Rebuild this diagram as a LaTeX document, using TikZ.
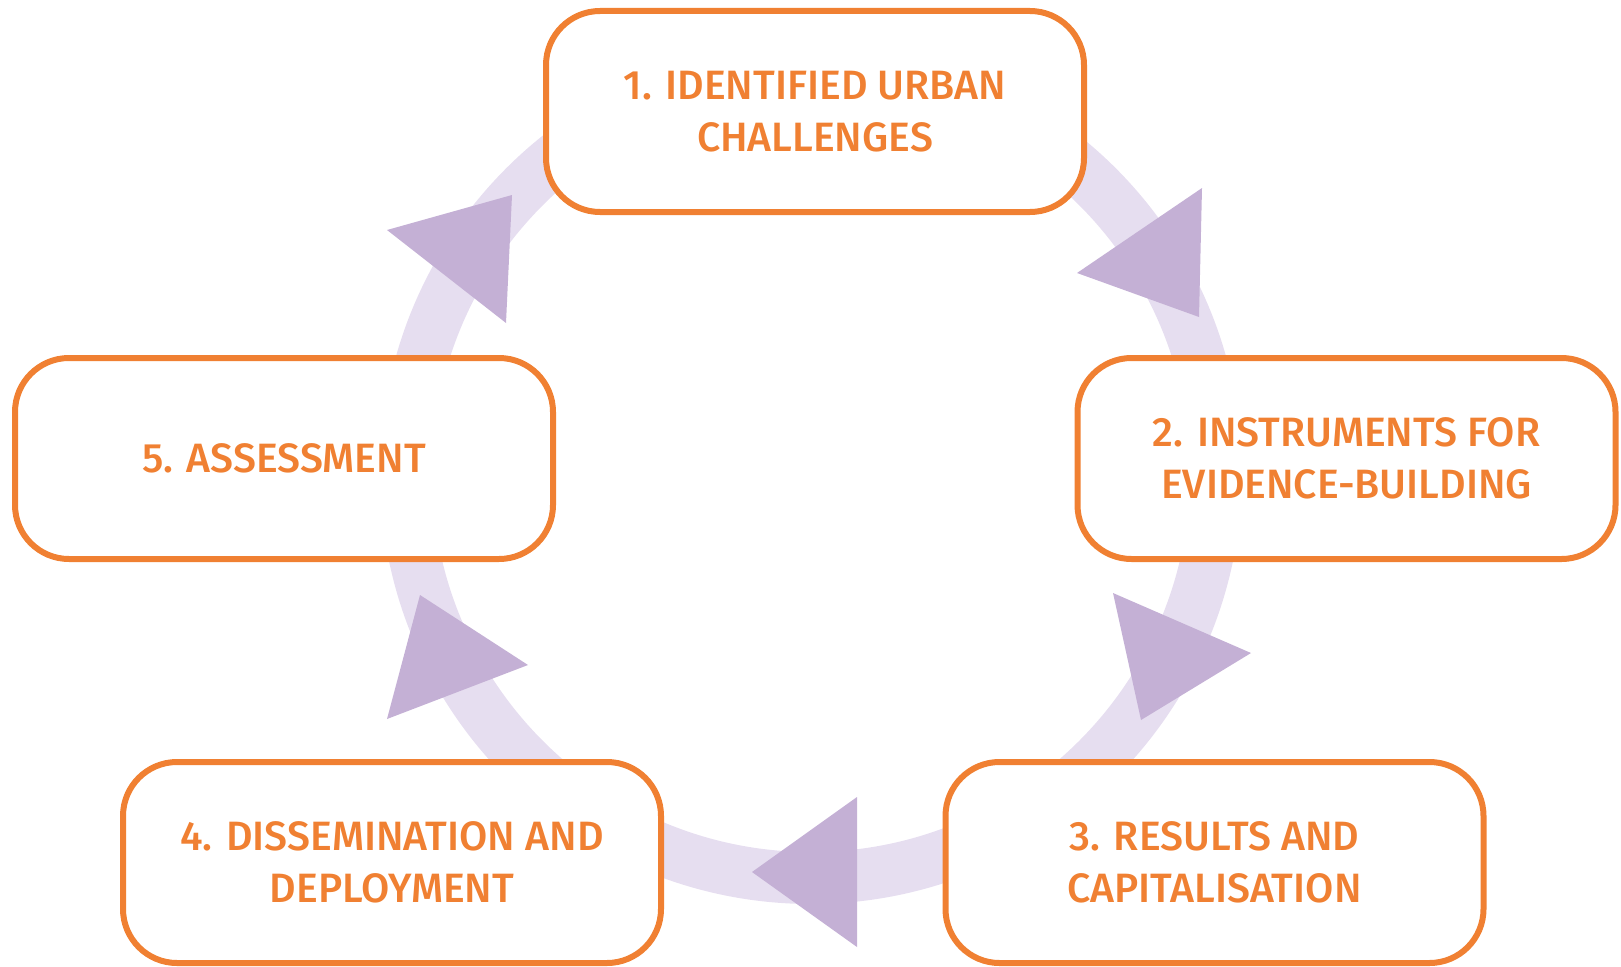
\documentclass[tikz,border=0pt]{standalone}
\usepackage{fontspec}
\setmainfont{Fira Sans}[UprightFont=* Medium]
\definecolor{euorange}{RGB}{240,128,50}
\definecolor{lilac}{RGB}{196,176,213}
\definecolor{palelilac}{RGB}{230,222,240}
\begin{document}
\begin{tikzpicture}[x=1pt, y=-1pt,
    stage/.style={draw=euorange, line width=6, rounded corners=54, fill=white,
      minimum width=538, minimum height=201, align=center, text=euorange,
      font=\fontsize{41}{52}\selectfont},
    ring/.style={draw=palelilac, line width=52},
    flowtip/.style={fill=lilac}]
      \useasboundingbox (0, 0) rectangle (1621, 966);
      \coordinate (hub) at (811, 473);
      \draw[ring] (hub) circle (405);
      % arrow heads along the ring
      \fill[flowtip] (1202, 188) -- (1077, 273) -- (1199, 317) -- cycle;
      \fill[flowtip] (1113, 593) -- (1251, 653) -- (1141, 720) -- cycle;
      \fill[flowtip] (857, 797) -- (752, 872) -- (857, 947) -- cycle;
      \fill[flowtip] (420, 595) -- (528, 665) -- (387, 719) -- cycle;
      \fill[flowtip] (512, 195) -- (387, 230) -- (506, 323) -- cycle;
      \node[stage] (challenges) at (815, 111.5) {1. IDENTIFIED URBAN\\CHALLENGES};
      \node[stage] (instruments) at (1346.5, 458.5) {2. INSTRUMENTS FOR\\EVIDENCE-BUILDING};
      \node[stage] (results) at (1214.5, 862.5) {3. RESULTS AND\\CAPITALISATION};
      \node[stage] (dissemination) at (392, 862.5) {4. DISSEMINATION AND\\DEPLOYMENT};
      \node[stage] (assessment) at (284, 458.5) {5. ASSESSMENT};
\end{tikzpicture}
\end{document}
